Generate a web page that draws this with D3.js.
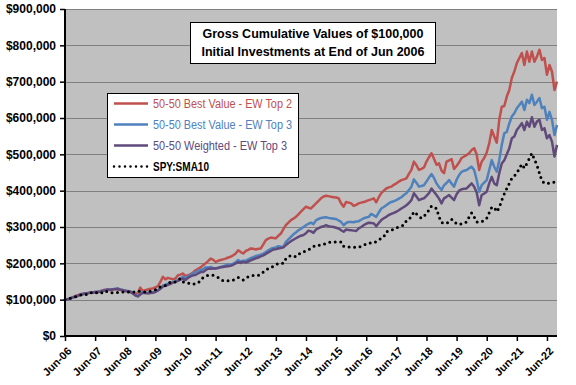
<!DOCTYPE html>
<html>
<head>
<meta charset="utf-8">
<script src="https://cdn.jsdelivr.net/npm/d3@7"></script>
<style>
  body { margin: 0; background: #fff; }
  svg { display: block; }
  text { font-family: "Liberation Sans", Arial, sans-serif; }
</style>
</head>
<body>
<div id="chart"></div>
<script>
var W = 576, H = 385;

// x tick labels, one per June
var xLabels = ["Jun-06", "Jun-07", "Jun-08", "Jun-09", "Jun-10", "Jun-11", "Jun-12", "Jun-13", "Jun-14",
    "Jun-15", "Jun-16", "Jun-17", "Jun-18", "Jun-19", "Jun-20", "Jun-21", "Jun-22"];

var yTicks = [0, 100000, 200000, 300000, 400000, 500000, 600000, 700000, 800000, 900000];

// monthly values in $ thousands, Jun-06 .. Oct-22 (one row per year Jun..May)
var bestTop2 = [
    100, 101, 103, 106, 110, 112, 115, 116, 117, 118, 119, 120,
    121, 121, 123, 126, 127, 129, 126, 128, 129, 128, 128, 127,
    124, 123, 121, 118, 115, 119, 133, 124, 126, 128, 130, 131,
    134, 137, 149, 163, 156, 160, 158, 156, 158, 167, 169, 172,
    165, 167, 170, 175, 181, 185, 189, 195, 200, 206, 213, 210,
    204, 207, 209, 211, 213, 216, 218, 222, 227, 236, 231, 227,
    234, 237, 241, 240, 238, 240, 241, 252, 264, 268, 271, 270,
    269, 276, 282, 294, 305, 312, 319, 323, 328, 335, 342, 349,
    356, 353, 351, 358, 365, 372, 379, 384, 386, 385, 383, 382,
    381, 379, 365, 356, 369, 367, 365, 358, 361, 365, 367, 369,
    371, 374, 376, 379, 368, 382, 393, 400, 406, 409, 411, 416,
    420, 425, 429, 431, 434, 446, 457, 480, 470, 457, 460, 464,
    480, 492, 503, 488, 471, 475, 455, 448, 480, 483, 487, 460,
    468, 478, 490, 494, 498, 503, 512, 517, 500, 457, 480, 490,
    505, 530, 567, 549, 532, 595, 631, 633, 659, 677, 710, 728,
    751, 765, 779, 746, 783, 755, 783, 755, 769, 788, 760, 765,
    719, 746, 728, 677, 700
];

var bestTop3 = [
    100, 101, 103, 106, 108, 110, 114, 115, 117, 118, 119, 120,
    121, 121, 123, 125, 126, 128, 128, 129, 130, 131, 128, 126,
    125, 124, 123, 118, 112, 110, 116, 121, 120, 119, 120, 121,
    123, 126, 131, 139, 141, 144, 146, 149, 151, 154, 159, 163,
    158, 165, 168, 172, 175, 180, 181, 184, 189, 188, 190, 187,
    186, 188, 190, 192, 194, 197, 196, 199, 203, 209, 205, 207,
    207, 211, 214, 217, 220, 222, 224, 227, 231, 236, 240, 242,
    244, 247, 246, 245, 259, 266, 273, 280, 285, 291, 295, 300,
    305, 309, 312, 308, 319, 322, 325, 326, 327, 325, 324, 323,
    322, 318, 314, 305, 311, 314, 314, 313, 315, 316, 320, 324,
    326, 328, 336, 332, 328, 340, 351, 355, 360, 365, 369, 371,
    374, 378, 382, 388, 393, 402, 411, 431, 422, 411, 413, 415,
    425, 436, 446, 435, 420, 410, 402, 415, 421, 429, 420, 411,
    430, 443, 452, 455, 457, 462, 466, 457, 430, 397, 415, 422,
    429, 457, 484, 466, 452, 484, 526, 558, 562, 585, 604, 613,
    627, 636, 645, 622, 650, 641, 664, 636, 645, 655, 627, 631,
    595, 617, 595, 553, 581
];

var weightedTop3 = [
    100, 101, 103, 106, 108, 110, 113, 115, 117, 118, 119, 120,
    121, 121, 122, 124, 126, 127, 127, 128, 129, 130, 127, 125,
    124, 123, 122, 117, 112, 109, 114, 119, 118, 117, 118, 119,
    121, 125, 130, 136, 138, 141, 143, 147, 149, 152, 155, 158,
    154, 160, 164, 167, 168, 172, 176, 176, 181, 186, 185, 186,
    186, 187, 189, 190, 191, 192, 193, 196, 200, 203, 201, 204,
    202, 205, 208, 211, 214, 216, 219, 222, 226, 230, 234, 238,
    239, 241, 242, 244, 250, 256, 261, 265, 269, 273, 276, 278,
    283, 290, 288, 284, 293, 297, 300, 302, 305, 302, 301, 300,
    298, 296, 291, 287, 293, 292, 291, 290, 289, 296, 300, 305,
    309, 312, 311, 310, 302, 311, 319, 324, 328, 333, 336, 339,
    342, 346, 351, 355, 360, 366, 374, 393, 384, 374, 377, 379,
    386, 393, 406, 397, 388, 378, 365, 379, 383, 388, 381, 374,
    390, 400, 404, 405, 406, 413, 420, 411, 395, 360, 388, 392,
    397, 420, 438, 420, 415, 448, 475, 484, 500, 517, 544, 549,
    567, 576, 586, 567, 590, 576, 602, 576, 590, 595, 567, 572,
    544, 553, 535, 494, 526
];

var spySma10 = [
    100, 102, 104, 106, 108, 109, 112, 114, 114, 114, 117, 121,
    120, 118, 117, 120, 124, 121, 119, 119, 119, 120, 121, 121,
    121, 121, 121, 121, 121, 122, 124, 122, 121, 122, 123, 125,
    127, 130, 136, 137, 139, 143, 149, 148, 149, 154, 158, 149,
    148, 146, 144, 142, 144, 146, 153, 161, 165, 167, 167, 167,
    164, 161, 157, 152, 152, 152, 152, 154, 157, 161, 158, 154,
    159, 163, 165, 167, 167, 167, 170, 176, 181, 186, 189, 192,
    196, 200, 200, 200, 213, 218, 222, 220, 218, 224, 229, 232,
    234, 238, 241, 246, 250, 250, 250, 252, 255, 257, 259, 259,
    259, 259, 259, 247, 246, 245, 244, 244, 244, 244, 247, 250,
    253, 256, 256, 256, 260, 264, 269, 273, 287, 289, 291, 295,
    298, 300, 303, 305, 317, 322, 328, 342, 336, 330, 324, 330,
    336, 347, 358, 355, 351, 328, 312, 311, 310, 315, 321, 317,
    308, 308, 308, 311, 314, 328, 339, 328, 314, 314, 314, 319,
    324, 339, 354, 354, 342, 354, 374, 391, 406, 420, 434, 441,
    448, 462, 473, 462, 475, 489, 503, 486, 471, 448, 427, 420,
    420, 421, 422, 424, 425
];

var seriesNames = ["50-50 Best Value - EW Top 2", "50-50 Best Value - EW Top 3", "50-50 Weighted - EW Top 3", "SPY:SMA10"];
var seriesColors = ["#C0504D", "#4F81BD", "#604A7B", "#000000"];
var legendTextWidth = [139, 139, 134, 56];
var titleLines = ["Gross Cumulative Values of $100,000", "Initial Investments at End of Jun 2006"];

var plotLeft = 65, plotRight = 557, plotTop = 9, plotBottom = 336;

var svg = d3.select("#chart").append("svg")
    .attr("width", W)
    .attr("height", H);

var x = d3.scaleLinear()
    .domain([0, bestTop2.length - 1])
    .range([plotLeft, plotRight]);

var y = d3.scaleLinear()
    .domain([0, 900000])
    .range([plotBottom, plotTop]);

// plot background
svg.append("rect")
    .attr("x", plotLeft)
    .attr("y", plotTop)
    .attr("width", plotRight - plotLeft)
    .attr("height", plotBottom - plotTop)
    .attr("fill", "#C0C0C0");

// gridlines
svg.append("g")
    .selectAll("line")
    .data(yTicks.slice(1))
    .enter()
    .append("line")
    .attr("x1", plotLeft)
    .attr("x2", plotRight)
    .attr("y1", function(d) { return Math.round(y(d)) + 0.5; })
    .attr("y2", function(d) { return Math.round(y(d)) + 0.5; })
    .attr("stroke", "#808080")
    .attr("stroke-width", 1);

// lines
var allSeries = [bestTop2, bestTop3, weightedTop3, spySma10];
var line = d3.line()
    .x(function(d, i) { return x(i); })
    .y(function(d) { return y(d * 1000); });

for (var s = 0; s < allSeries.length; s++) {
    var p = svg.append("path")
        .datum(allSeries[s])
        .attr("fill", "none")
        .attr("stroke", seriesColors[s])
        .attr("d", line);
    if (s === 3) {
        p.attr("stroke-width", 3)
            .attr("stroke-linecap", "round")
            .attr("stroke-dasharray", "0,5.5");
    } else {
        p.attr("stroke-width", 2.5)
            .attr("stroke-linejoin", "round");
    }
}

// y axis
var yAxis = svg.append("g")
    .attr("transform", "translate(" + plotLeft + ",0)")
    .call(d3.axisLeft(y)
        .tickValues(yTicks)
        .tickSize(5)
        .tickPadding(4)
        .tickFormat(d3.format("$,")));
yAxis.select(".domain").attr("stroke", "#000").attr("stroke-width", 2)
    .attr("d", "M0," + plotTop + "V" + plotBottom);
yAxis.selectAll(".tick line").attr("stroke", "#000").attr("stroke-width", 1.5);
yAxis.selectAll("text")
    .attr("font-family", "Liberation Sans, Arial, sans-serif")
    .attr("font-size", "12px")
    .attr("font-weight", "bold")
    .attr("fill", "#000");

// x axis
var xTickIdx = xLabels.map(function(d, i) { return i * 12; });
var xAxis = svg.append("g")
    .attr("transform", "translate(0," + plotBottom + ")")
    .call(d3.axisBottom(x)
        .tickValues(xTickIdx)
        .tickSize(5)
        .tickFormat(function(d, i) { return xLabels[i]; }));
xAxis.select(".domain").attr("stroke", "#000").attr("stroke-width", 2)
    .attr("d", "M" + (plotLeft - 1) + ",0H" + plotRight);
xAxis.selectAll(".tick line").attr("stroke", "#000").attr("stroke-width", 1.5);
xAxis.selectAll("text")
    .attr("font-family", "Liberation Sans, Arial, sans-serif")
    .attr("font-size", "11px")
    .attr("font-weight", "bold")
    .attr("fill", "#000")
    .attr("text-anchor", "end")
    .attr("dy", "0.35em")
    .attr("y", 0)
    .attr("transform", "translate(4,13) rotate(-45)");

// title box
var tb = svg.append("g");
tb.append("rect")
    .attr("x", 190.5)
    .attr("y", 22.5)
    .attr("width", 245)
    .attr("height", 41)
    .attr("fill", "#fff")
    .attr("stroke", "#000")
    .attr("stroke-width", 1);
tb.selectAll("text")
    .data(titleLines)
    .enter()
    .append("text")
    .attr("x", 313)
    .attr("y", function(d, i) { return 38 + i * 18; })
    .attr("text-anchor", "middle")
    .attr("font-size", "12.5px")
    .attr("font-weight", "bold")
    .attr("fill", "#000")
    .text(function(d) { return d; });

// legend
var lg = svg.append("g");
lg.append("rect")
    .attr("x", 107.5)
    .attr("y", 93.5)
    .attr("width", 191)
    .attr("height", 84)
    .attr("fill", "#fff")
    .attr("stroke", "#000")
    .attr("stroke-width", 1);
var rows = lg.selectAll("g.row")
    .data(seriesNames)
    .enter()
    .append("g")
    .attr("class", "row")
    .attr("transform", function(d, i) { return "translate(0," + (103.5 + i * 21) + ")"; });
rows.append("line")
    .attr("x1", 114)
    .attr("x2", 148)
    .attr("stroke", function(d, i) { return seriesColors[i]; })
    .attr("stroke-width", 2.5)
    .attr("stroke-linecap", function(d, i) { return i === 3 ? "round" : "butt"; })
    .attr("stroke-dasharray", function(d, i) { return i === 3 ? "0,5.5" : null; });
rows.append("text")
    .attr("x", 153)
    .attr("dy", "0.35em")
    .attr("font-size", "12px")
    .attr("font-weight", function(d, i) { return i === 3 ? "bold" : "normal"; })
    .attr("fill", function(d, i) { return seriesColors[i]; })
    .attr("textLength", function(d, i) { return legendTextWidth[i]; })
    .attr("lengthAdjust", "spacingAndGlyphs")
    .text(function(d) { return d; });
</script>
</body>
</html>
